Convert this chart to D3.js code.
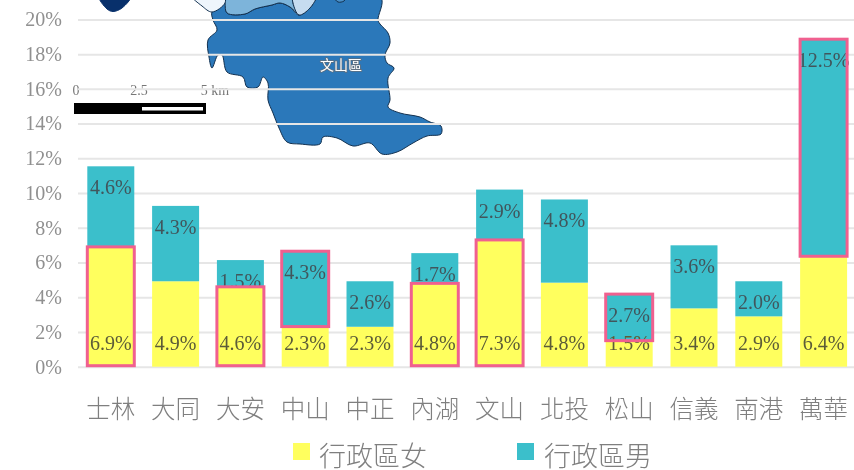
<!DOCTYPE html>
<html><head><meta charset="utf-8">
<script src="https://cdn.jsdelivr.net/npm/d3@7/dist/d3.min.js"></script>
<style>html,body{margin:0;padding:0;background:#fff;overflow:hidden}svg{display:block;filter:blur(.35px)}</style>
</head><body><svg id="c" width="854" height="470"></svg>
<script>
const categories = ["士林","大同","大安","中山","中正","內湖","文山","北投","松山","信義","南港","萬華"];
const female = [6.9,4.92,4.6,2.31,2.3,4.8,7.3,4.84,1.5,3.36,2.9,6.36];
const male = [4.64,4.34,1.54,4.34,2.62,1.74,2.9,4.79,2.68,3.63,2.02,12.5];
const highlightFemale = ["士林","大安","內湖","文山"];
const highlightMale = ["中山","松山","萬華"];
const yTicks = [0,2,4,6,8,10,12,14,16,18,20];
const legendLabels = ["行政區女","行政區男"];
const scaleLabels = ["0","2.5","5 km"];

const COL_F="#FFFF5E", COL_M="#3BBFCB", PINK="#F0608F";
const SERIF='"Liberation Serif",serif', CJK='"Noto Sans CJK TC",sans-serif';
const svg=d3.select("#c");
const x=d3.scaleBand().domain(categories).range([78.4,856]).paddingInner(.275).paddingOuter(.1375);
const y=d3.scaleLinear().domain([0,20]).range([366.7,19.4]);

// inset map (decorative picture pasted behind the gridlines)
const mapG=svg.append("g").attr("stroke","#12304f").attr("stroke-width",1).attr("stroke-linejoin","round");
const line=d3.line().curve(d3.curveCatmullRomClosed.alpha(.5));
const wenshan=[[212,12],[225,3],[227,13],[245,14],[255,9],[272,5],[280,3],[290,7],[299,15],[310,8],[318,-2],[381,-2],[378,20],[380,24],[388,33],[390,43],[385,55],[387,63],[394,68],[388,78],[390,100],[388,107],[400,113],[420,117],[430,122],[441,126],[441,134],[427,136],[413,143],[397,152],[382,154],[370,143],[353,146],[337,138],[323,137],[320,144],[300,144],[287,142],[279,128],[273,113],[268,100],[268,83],[263,77],[258,87],[247,87],[243,77],[227,72],[222,55],[218,55],[212,68],[209,57],[208,40],[217,30],[213,20]];
mapG.append("path").attr("d",line(wenshan)).attr("fill","#2B78BA");
mapG.append("path").attr("d",line([[224,-4],[225,3],[227,13],[245,14],[255,9],[272,5],[280,3],[290,7],[299,15],[293,3],[295,-4]])).attr("fill","#7DB4DA");
mapG.append("path").attr("d",line([[293,-4],[293,3],[299,15],[310,8],[316,-4]])).attr("fill","#C6DCF0");
mapG.append("path").attr("d",line([[192,-4],[202,6],[212,12],[225,3],[224,-4]])).attr("fill","#EEF5FC");
mapG.append("path").attr("d",line([[99,-4],[107,9],[113,11.5],[122,8],[131,-4]])).attr("fill","#08306B").attr("stroke","#08306B");
mapG.append("path").attr("d",line([[334,-3],[338,2],[344,1],[346,-3]])).attr("fill","#4A90C8");
svg.append("text").attr("x",341).attr("y",70).attr("text-anchor","middle").attr("font-family",CJK).attr("font-size",14)
  .attr("fill","#fff").attr("stroke","#5f6f7f").attr("stroke-width",1.6).attr("paint-order","stroke").text("文山區");
// scale bar
svg.append("rect").attr("x",74).attr("y",103).attr("width",132).attr("height",11).attr("fill","#000");
svg.append("rect").attr("x",142).attr("y",107).attr("width",61).attr("height",3.5).attr("fill","#fff");
svg.selectAll(".sc").data(scaleLabels).join("text").attr("class","sc")
  .attr("x",(d,i)=>[76,139,215][i]).attr("y",95).attr("text-anchor","middle").attr("font-family",SERIF).attr("font-size",14).attr("fill","#777").text(d=>d);

// y axis + gridlines
const ax=svg.append("g").attr("transform","translate(78,0)").call(d3.axisLeft(y).tickValues(yTicks).tickSize(-776).tickPadding(16).tickFormat(d=>d+"%"));
ax.select(".domain").remove();
ax.selectAll("line").attr("stroke","#E6E6E6").attr("stroke-width",2);
ax.selectAll("text").attr("font-family",SERIF).attr("font-size",20).attr("fill","#909090");

// stacked bars
const rows=categories.map((c,i)=>({c,f:female[i],m:male[i]}));
svg.append("g").selectAll("rect").data(rows).join("rect").attr("x",d=>x(d.c)).attr("width",x.bandwidth())
  .attr("y",d=>y(d.f)).attr("height",d=>y(0)-y(d.f)).attr("fill",COL_F);
svg.append("g").selectAll("rect").data(rows).join("rect").attr("x",d=>x(d.c)).attr("width",x.bandwidth())
  .attr("y",d=>y(d.f+d.m)).attr("height",d=>y(d.f)-y(d.f+d.m)).attr("fill",COL_M);

// labels
const lab=svg.append("g").attr("font-family",SERIF).attr("font-size",20).attr("text-anchor","middle").attr("dominant-baseline","central").attr("fill","#41565c");
lab.selectAll(".lm").data(rows).join("text").attr("class","lm").attr("x",d=>x(d.c)+x.bandwidth()/2).attr("y",d=>y(d.f+d.m)+21).text(d=>d.m.toFixed(1)+"%");
lab.selectAll(".lf").data(rows).join("text").attr("class","lf").attr("x",d=>x(d.c)+x.bandwidth()/2).attr("y",y(0)-23.5).attr("fill","#5c5c38").text(d=>d.f.toFixed(1)+"%");

// highlight boxes
const hl=svg.append("g").attr("fill","none").attr("stroke",PINK).attr("stroke-width",3);
hl.selectAll(".hf").data(rows.filter(d=>highlightFemale.includes(d.c))).join("rect").attr("class","hf")
  .attr("x",d=>x(d.c)).attr("width",x.bandwidth()).attr("y",d=>y(d.f)).attr("height",d=>y(0)-y(d.f)-1);
hl.selectAll(".hm").data(rows.filter(d=>highlightMale.includes(d.c))).join("rect").attr("class","hm")
  .attr("x",d=>x(d.c)).attr("width",x.bandwidth()).attr("y",d=>y(d.f+d.m)).attr("height",d=>y(d.f)-y(d.f+d.m));

// category labels
svg.append("g").selectAll("text").data(categories).join("text").attr("x",d=>x(d)+x.bandwidth()/2).attr("y",407)
  .attr("text-anchor","middle").attr("dominant-baseline","central").attr("font-family",CJK).attr("font-weight",300).attr("font-size",24.5).attr("fill","#7F7F7F").text(d=>d);

// legend
const lg=svg.append("g");
[[293,319,COL_F],[517,544,COL_M]].forEach((p,i)=>{
  lg.append("rect").attr("x",p[0]).attr("y",443).attr("width",17).attr("height",17).attr("fill",p[2]);
  lg.append("text").attr("x",p[1]).attr("y",454.5).attr("dominant-baseline","central").attr("font-family",CJK).attr("font-weight",300).attr("font-size",27).attr("fill","#7F7F7F").text(legendLabels[i]);
});
</script></body></html>
